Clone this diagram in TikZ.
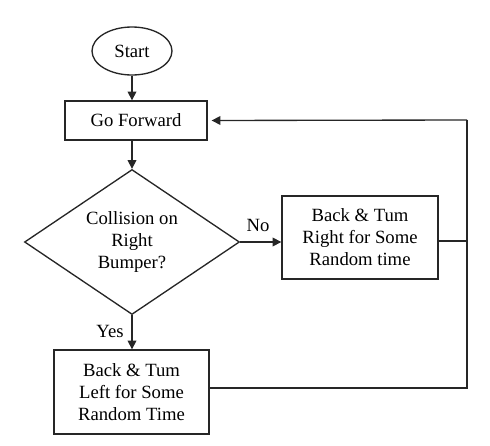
\documentclass[tikz,border=0pt]{standalone}
\usepackage{fontspec}
\setmainfont{Liberation Serif}
\usetikzlibrary{shapes.geometric,arrows.meta}
\tikzset{
  base/.style={draw=black!85, line width=1pt, font=\fontsize{14}{16.5}\selectfont, align=center, inner sep=0pt},
  procbox/.style={base, rectangle},
  startnode/.style={base, ellipse},
  decision/.style={base, diamond, aspect=1.49},
  flow/.style={draw=black!85, line width=1pt, -{Triangle[length=6.5pt,width=6.5pt]}},
  plain/.style={draw=black!85, line width=1pt},
  lbl/.style={font=\fontsize{14}{16.5}\selectfont, inner sep=0pt}
}
\begin{document}
\begin{tikzpicture}[x=0.75pt, y=-0.75pt]
\useasboundingbox (0,0) rectangle (490,446);
\node[startnode, minimum width=60pt, minimum height=36pt] (start) at (132,51) {Start};
\node[procbox, minimum width=106.5pt, minimum height=29.25pt] (go) at (136,120.5) {Go Forward};
\node[decision, minimum width=161.25pt, minimum height=108.75pt] (dia) at (132,242) {Collision on\\Right\\Bumper?};
\node[procbox, minimum width=117pt, minimum height=62.25pt] (rbox) at (360,237.5) {Back \& Tum\\Right for Some\\Random time};
\node[procbox, minimum width=116.25pt, minimum height=63pt] (lbox) at (131.5,392) {Back \& Tum\\Left for Some\\Random Time};
\coordinate (rt) at (467,120);
\coordinate (rb) at (467,388);
\coordinate (rm) at (467,241);
\node[lbl] (no) at (258,225) {No};
\node[lbl] (yes) at (110,331) {Yes};
\draw[flow] (start.south) -- (start.south |- go.north);
\draw[flow] (go.south -| dia.north) -- (dia.north);
\draw[flow] (dia.east) -- (dia.east -| rbox.west);
\draw[flow] (dia.south) -- (dia.south |- lbox.north);
\draw[plain] (rbox.east |- rm) -- (rm);
\draw[plain] (lbox.east |- rb) -- (rb) -- (rt);
\draw[flow] (rt) -- ([xshift=3pt]go.east);
\end{tikzpicture}
\end{document}
